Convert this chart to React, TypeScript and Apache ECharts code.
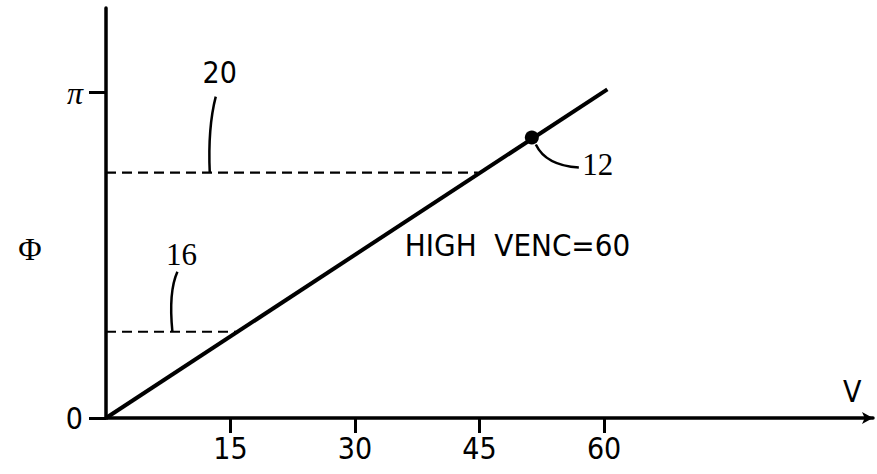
import React, { useEffect, useRef } from "react";
import * as echarts from "echarts";

// ---- data ----
const xTickValues = [15, 30, 45, 60];
const yTickValues = [0, 1]; // in units of π
const yTickLabels = ["0", "π"];
const phaseLine = [
  [0, 0],
  [60.4, 1.01],
];
const point12 = [[51.3, 0.862]];
const dash20 = [
  [0, 0.754],
  [44.8, 0.754],
];
const dash16 = [
  [0, 0.265],
  [15.7, 0.265],
];
const xMax = 92.4;
const yMax = 1.26;
const annotationText = "HIGH  VENC=60";

const NARROW = "'Liberation Sans Narrow', 'DejaVu Sans Condensed', 'Roboto Condensed', sans-serif";
const SERIF = "'Liberation Serif', 'DejaVu Serif', serif";

export default function App() {
  const ref = useRef<HTMLDivElement>(null);
  useEffect(() => {
    document.body.style.margin = "0";
    const chart = echarts.init(ref.current!, null, { renderer: "svg" });
    const option: any = {
      animation: false,
      backgroundColor: "#fff",
      grid: { left: 106, right: 4, top: 8, bottom: 56 },
      xAxis: {
        type: "value",
        min: 0,
        max: xMax,
        splitLine: { show: false },
        axisLine: {
          show: true,
          onZero: false,
          symbol: ["none", "arrow"],
          symbolSize: [9, 11],
          lineStyle: { color: "#000", width: 3.5 },
        },
        axisTick: {
          show: true,
          customValues: xTickValues,
          length: 15,
          lineStyle: { color: "#000", width: 3 },
        },
        axisLabel: {
          customValues: xTickValues,
          margin: 15,
          fontSize: 30,
          color: "#000",
          fontFamily: NARROW,
        },
      },
      yAxis: {
        type: "value",
        min: 0,
        max: yMax,
        splitLine: { show: false },
        axisLine: { show: true, lineStyle: { color: "#000", width: 3.5 } },
        axisTick: {
          show: true,
          customValues: yTickValues,
          length: 17,
          lineStyle: { color: "#000", width: 3 },
        },
        axisLabel: {
          customValues: yTickValues,
          margin: 23,
          color: "#000",
          formatter: (v: number) => {
            const i = yTickValues.indexOf(v);
            return i === 1 ? "{p|" + yTickLabels[i] + "}" : "{z|" + yTickLabels[i] + "}";
          },
          rich: {
            z: { fontSize: 30, fontFamily: NARROW, color: "#000" },
            p: { fontSize: 32, fontFamily: SERIF, fontStyle: "italic", color: "#000" },
          },
        },
      },
      series: [
        {
          type: "line",
          data: phaseLine,
          symbol: "none",
          lineStyle: { color: "#000", width: 4 },
        },
        {
          type: "line",
          data: dash20,
          symbol: "none",
          lineStyle: { color: "#000", width: 2.2, type: [10, 6] },
        },
        {
          type: "line",
          data: dash16,
          symbol: "none",
          lineStyle: { color: "#000", width: 2.2, type: [10, 6] },
        },
        {
          type: "scatter",
          data: point12,
          symbolSize: 14,
          itemStyle: { color: "#000", opacity: 1 },
        },
      ],
    };
    chart.setOption(option);

    const px = (p: number[]) => chart.convertToPixel({ gridIndex: 0 }, p) as number[];
    const a20 = px([12.5, dash20[0][1]]);
    const a16 = px([8, dash16[0][1]]);
    const a12 = px(point12[0]);
    const aText = px([36, 0.532]);
    const aV = px([xMax - 2.5, 0.08]);
    const aPhi = px([0, 0.52]);
    const leader = { stroke: "#000", lineWidth: 2.5, fill: "none" };
    chart.setOption({
      graphic: [
        {
          type: "bezierCurve",
          shape: {
            x1: a20[0], y1: a20[1],
            cpx1: a20[0] - 2, cpy1: a20[1] - 45,
            x2: a20[0] + 6, y2: a20[1] - 76,
          },
          style: leader,
        },
        {
          type: "text",
          x: a20[0] + 10, y: a20[1] - 100,
          style: { text: "20", fontSize: 30, fontFamily: NARROW, fill: "#000", align: "center", verticalAlign: "middle" },
        },
        {
          type: "bezierCurve",
          shape: {
            x1: a16[0], y1: a16[1],
            cpx1: a16[0] - 4, cpy1: a16[1] - 40,
            x2: a16[0] + 5, y2: a16[1] - 60,
          },
          style: leader,
        },
        {
          type: "text",
          x: a16[0] + 9, y: a16[1] - 77,
          style: { text: "16", fontSize: 31, fontFamily: SERIF, fill: "#000", align: "center", verticalAlign: "middle" },
        },
        {
          type: "bezierCurve",
          shape: {
            x1: a12[0] + 4, y1: a12[1] + 7,
            cpx1: a12[0] + 14, cpy1: a12[1] + 28,
            x2: a12[0] + 47, y2: a12[1] + 30,
          },
          style: leader,
        },
        {
          type: "text",
          x: a12[0] + 66, y: a12[1] + 27,
          style: { text: "12", fontSize: 31, fontFamily: SERIF, fill: "#000", align: "center", verticalAlign: "middle" },
        },
        {
          type: "text",
          x: aText[0], y: aText[1],
          style: { text: annotationText, fontSize: 31, fontFamily: NARROW, fill: "#000", align: "left", verticalAlign: "middle" },
        },
        {
          type: "text",
          x: aV[0], y: aV[1],
          style: { text: "V", fontSize: 30, fontFamily: NARROW, fill: "#000", align: "center", verticalAlign: "middle" },
        },
        {
          type: "text",
          x: aPhi[0] - 76, y: aPhi[1],
          style: { text: "Φ", fontSize: 32, fontFamily: SERIF, fill: "#000", align: "center", verticalAlign: "middle" },
        },
      ],
    });
    return () => chart.dispose();
  }, []);
  return <div ref={ref} style={{ width: 877, height: 474 }} />;
}
